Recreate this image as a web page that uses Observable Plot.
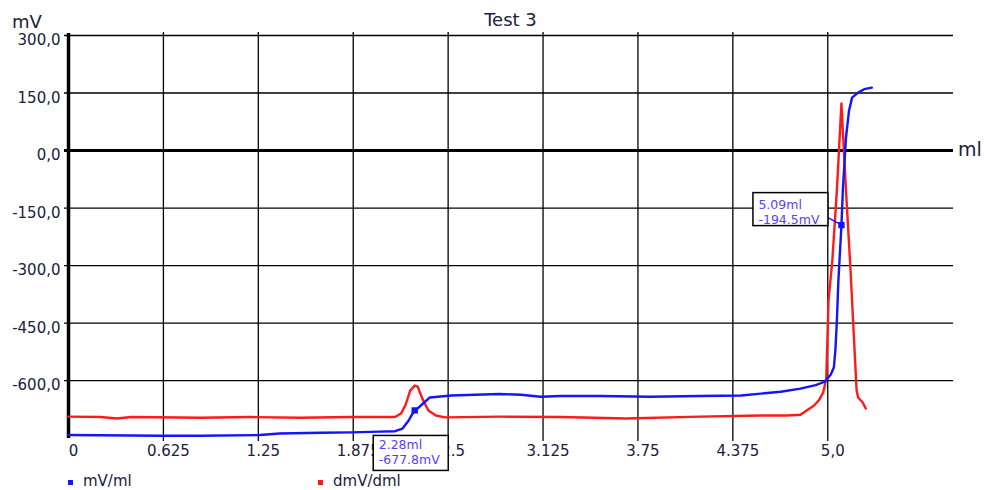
<!DOCTYPE html>
<html>
<head>
<meta charset="utf-8">
<script src="https://cdn.jsdelivr.net/npm/d3@7"></script>
<script src="https://cdn.jsdelivr.net/npm/@observablehq/plot@0.6"></script>
<style>
  html, body { margin: 0; padding: 0; background: #fff; overflow: hidden; }
  #wrap { position: relative; width: 984px; height: 490px; font-family: "DejaVu Sans", sans-serif; color: #202040; }
  #wrap svg { display: block; }
  .abs { position: absolute; white-space: nowrap; line-height: 1; }
  .sw { position: absolute; width: 5px; height: 5px; }
</style>
</head>
<body>
<div id="wrap">
  <div class="abs" id="title" style="left:68px; width:885px; top:11px; text-align:center; font-size:18px;"></div>
  <div class="abs" id="yunit" style="left:12px; top:13px; font-size:18px;"></div>
  <div class="abs" id="xunit" style="left:958px; top:140px; font-size:19px;"></div>
  <div id="legend"></div>
</div>
<script>
// ---------- data ----------
const titleText = "Test 3";
const yUnit = "mV";
const xUnit = "ml";
const seriesNames = ["mV/ml", "dmV/dml"];

const xTicks = [0, 0.625, 1.25, 1.875, 2.5, 3.125, 3.75, 4.375, 5.0];
const xTickLabels = ["0", "0.625", "1.25", "1.875", "2.5", "3.125", "3.75", "4.375", "5,0"];
const yTicks = [300, 150, 0, -150, -300, -450, -600];
const yTickLabels = ["300,0", "150,0", "0,0", "-150,0", "-300,0", "-450,0", "-600,0"];

// mV/ml (blue) : volume (ml) and potential (mV)
const blueMl = [0, 0.60, 0.87, 1.26, 1.39, 1.66, 1.86, 2.05, 2.15, 2.20, 2.24, 2.27, 2.29, 2.32, 2.38, 2.52, 2.84, 2.98, 3.11, 3.24, 3.50, 3.83, 4.16, 4.43, 4.56, 4.69, 4.82, 4.92, 4.98, 5.02, 5.04, 5.05, 5.06, 5.07, 5.09, 5.10, 5.12, 5.14, 5.16, 5.20, 5.24, 5.29];
const blueMv = [-742, -744, -744, -742, -738, -736, -735, -733, -732, -725, -704, -683, -676, -665, -644, -639, -635, -637, -642, -640, -640, -642, -640, -639, -634, -629, -621, -612, -603, -584, -566, -522, -444, -339, -196, -97, 34, 104, 138, 151, 160, 164];

// dmV/dml (red)
const redMl = [0, 0.21, 0.32, 0.41, 0.87, 1.20, 1.53, 1.86, 2.15, 2.19, 2.22, 2.25, 2.28, 2.30, 2.33, 2.37, 2.42, 2.48, 2.84, 3.24, 3.67, 4.16, 4.56, 4.73, 4.82, 4.91, 4.94, 4.97, 4.99, 5.005, 5.03, 5.06, 5.09, 5.12, 5.15, 5.17, 5.19, 5.20, 5.23, 5.25];
const redVal = [-694, -695, -699, -695, -697, -695, -697, -695, -695, -686, -663, -626, -613, -616, -647, -678, -691, -696, -694, -695, -699, -694, -691, -691, -689, -665, -652, -631, -595, -391, -287, -104, 123, -104, -313, -470, -626, -644, -657, -673];

// annotations (marker points)
const annMl = [2.28, 5.09];
const annMv = [-677.8, -194.5];
const annLine1 = ["2.28ml", "5.09ml"];
const annLine2 = ["-677.8mV", "-194.5mV"];

// ---------- layout / style ----------
const BLUE = "#1414ff", RED = "#ff1a1a", ANN = "#5b3dff", INK = "#202040";
const boxLayout = [
  {dx: -41, dy: 25.5, w: 75, h: 35, t1: 14, t2: 29, leader: false},
  {dx: -88, dy: -32, w: 75, h: 33, t1: 16.5, t2: 31.5, leader: true}
];

const blue = blueMl.map((x, i) => ({x, y: blueMv[i]}));
const red = redMl.map((x, i) => ({x, y: redVal[i]}));
const ann = annMl.map((x, i) => ({x, y: annMv[i], a: annLine1[i], b: annLine2[i]}));

const plot = Plot.plot({
  width: 984,
  height: 466,
  marginLeft: 68,
  marginRight: 31,
  marginTop: 35,
  marginBottom: 28,
  x: {domain: [0, 5.828], label: null},
  y: {domain: [-751, 300], label: null},
  style: {fontFamily: "DejaVu Sans, sans-serif", fontSize: "15px", color: INK, background: "white", overflow: "visible"},
  marks: [
    Plot.ruleX(xTicks.filter(d => d !== 0), {stroke: "black", strokeWidth: 1.3, insetTop: -3, insetBottom: -3}),
    Plot.ruleY(yTicks.filter(d => d !== 0), {stroke: "black", strokeWidth: 1.3, insetLeft: -4}),
    Plot.axisX({ticks: xTicks, tickFormat: d => xTickLabels[xTicks.indexOf(d)], tickSize: 0, tickPadding: 7, dx: 5, fill: INK}),
    Plot.axisY({ticks: yTicks, tickFormat: d => yTickLabels[yTicks.indexOf(d)], tickSize: 0, tickPadding: 8, dy: 5, fill: INK}),
    Plot.ruleY([0], {stroke: "black", strokeWidth: 3, insetLeft: -4}),
    Plot.ruleX([0], {stroke: "black", strokeWidth: 3.5, insetTop: -2}),
    Plot.line(red, {x: "x", y: "y", stroke: RED, strokeWidth: 2.4, curve: "linear"}),
    Plot.line(blue, {x: "x", y: "y", stroke: BLUE, strokeWidth: 2.4, curve: "linear"}),
    Plot.dot(ann, {x: "x", y: "y", symbol: "square", r: 3.6, fill: BLUE, stroke: null})
  ]
});

document.getElementById("wrap").prepend(plot);

// annotation boxes positioned with the plot's own scales
const sx = plot.scale("x"), sy = plot.scale("y");
const svg = d3.select(plot);
ann.forEach((d, i) => {
  const L = boxLayout[i];
  const px = sx.apply(d.x), py = sy.apply(d.y);
  const bx = px + L.dx, by = py + L.dy;
  const g = svg.append("g").attr("text-anchor", "start");
  if (L.leader) {
    g.append("line").attr("x1", bx + L.w).attr("y1", by + L.h - 8).attr("x2", px).attr("y2", py)
      .attr("stroke", BLUE).attr("stroke-width", 1.2);
  }
  g.append("rect").attr("x", bx).attr("y", by).attr("width", L.w).attr("height", L.h)
    .attr("fill", "white").attr("stroke", "black").attr("stroke-width", 1.5);
  g.append("text").attr("x", bx + 5.5).attr("y", by + L.t1).attr("fill", ANN).attr("text-anchor", "start")
    .attr("font-size", 12.5).attr("font-family", "DejaVu Sans, sans-serif").text(d.a);
  g.append("text").attr("x", bx + 5.5).attr("y", by + L.t2).attr("fill", ANN).attr("text-anchor", "start")
    .attr("font-size", 12.5).attr("font-family", "DejaVu Sans, sans-serif").text(d.b);
});

// titles & units
document.getElementById("title").textContent = titleText;
document.getElementById("yunit").textContent = yUnit;
document.getElementById("xunit").textContent = xUnit;

// legend (below the SVG)
const legend = document.getElementById("legend");
const legendX = [68, 318];
const legendColors = [BLUE, RED];
seriesNames.forEach((name, i) => {
  const sw = document.createElement("div");
  sw.className = "sw";
  sw.style.left = legendX[i] + "px";
  sw.style.top = "480px";
  sw.style.background = legendColors[i];
  legend.appendChild(sw);
  const t = document.createElement("div");
  t.className = "abs";
  t.style.left = (legendX[i] + 15) + "px";
  t.style.top = "474px";
  t.style.fontSize = "15px";
  t.textContent = name;
  legend.appendChild(t);
});
</script>
</body>
</html>
